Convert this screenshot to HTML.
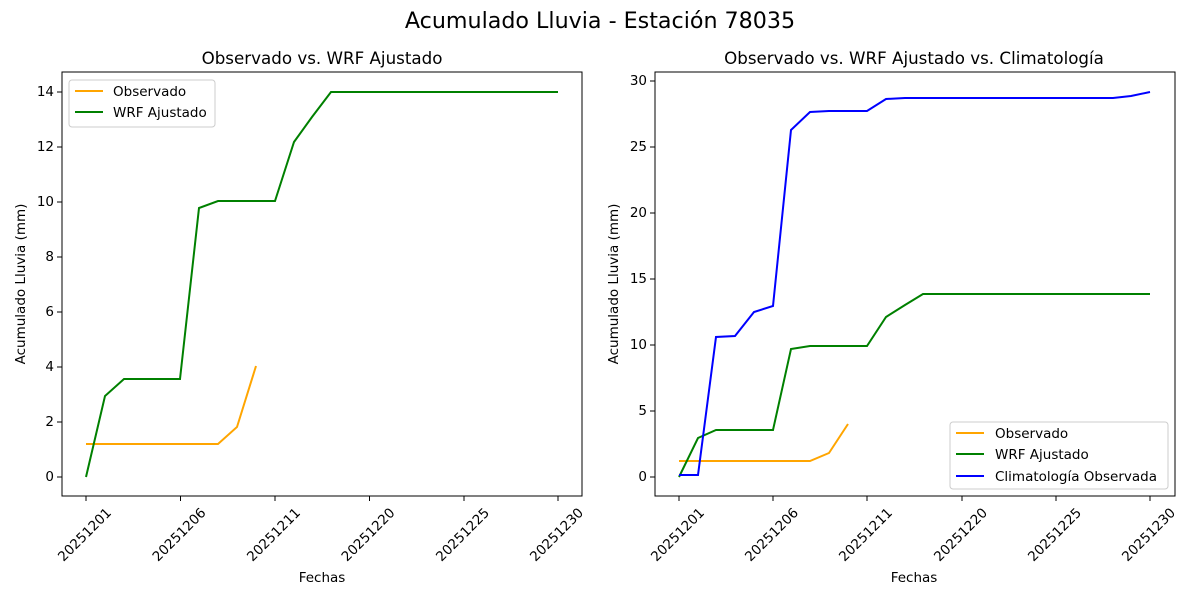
<!DOCTYPE html>
<html><head><meta charset="utf-8"><style>
html,body{margin:0;padding:0;background:#fff}
svg{display:block;font-family:"DejaVu Sans","Liberation Sans",sans-serif}
</style></head><body>
<svg width="1200" height="600" viewBox="0 0 1200 600" xmlns="http://www.w3.org/2000/svg">
<rect width="1200" height="600" fill="#fff"/>
<text x="600" y="28" font-size="22.2" text-anchor="middle" fill="#000">Acumulado Lluvia - Estación 78035</text>

<!-- LEFT -->
<text x="322" y="64" font-size="16.7" text-anchor="middle">Observado vs. WRF Ajustado</text>
<g stroke="#000" stroke-width="1">
<line x1="86" y1="496" x2="86" y2="501"/><line x1="180.5" y1="496" x2="180.5" y2="501"/><line x1="275" y1="496" x2="275" y2="501"/><line x1="369.5" y1="496" x2="369.5" y2="501"/><line x1="464" y1="496" x2="464" y2="501"/><line x1="558" y1="496" x2="558" y2="501"/>
<line x1="57" y1="477" x2="62" y2="477"/><line x1="57" y1="422" x2="62" y2="422"/><line x1="57" y1="367" x2="62" y2="367"/><line x1="57" y1="312" x2="62" y2="312"/><line x1="57" y1="257" x2="62" y2="257"/><line x1="57" y1="202" x2="62" y2="202"/><line x1="57" y1="147" x2="62" y2="147"/><line x1="57" y1="92" x2="62" y2="92"/>
</g>
<g font-size="13.5" text-anchor="end" dominant-baseline="central">
<text x="54" y="477">0</text><text x="54" y="422">2</text><text x="54" y="367">4</text><text x="54" y="312">6</text><text x="54" y="257">8</text><text x="54" y="202">10</text><text x="54" y="147">12</text><text x="54" y="92">14</text>
</g>
<g font-size="13.5" text-anchor="middle" dominant-baseline="central">
<text transform="translate(85,535) rotate(-45)">20251201</text>
<text transform="translate(179.5,535) rotate(-45)">20251206</text>
<text transform="translate(274,535) rotate(-45)">20251211</text>
<text transform="translate(368.5,535) rotate(-45)">20251220</text>
<text transform="translate(463,535) rotate(-45)">20251225</text>
<text transform="translate(557,535) rotate(-45)">20251230</text>
</g>
<text x="322" y="582" font-size="13.5" text-anchor="middle">Fechas</text>
<text transform="translate(25,284) rotate(-90)" font-size="13.5" text-anchor="middle">Acumulado Lluvia (mm)</text>
<polyline fill="none" stroke="#ffa500" stroke-width="2" points="86,444 218,444 237,427 256,366"/>
<polyline fill="none" stroke="#008000" stroke-width="2" points="86,477 105,396 124,379 180,379 199,208 218,201 275,201 294,142 312,117 331,92 558,92"/>
<rect x="62" y="72" width="520" height="424" fill="none" stroke="#000" stroke-width="1"/>
<rect x="69" y="80" width="146" height="47" rx="3" fill="#fff" stroke="#ccc"/>
<line x1="75" y1="91" x2="103" y2="91" stroke="#ffa500" stroke-width="2"/>
<text x="113" y="96" font-size="13.5">Observado</text>
<line x1="75" y1="112" x2="103" y2="112" stroke="#008000" stroke-width="2"/>
<text x="113" y="117" font-size="13.5">WRF Ajustado</text>

<!-- RIGHT -->
<text x="914" y="64" font-size="16.7" text-anchor="middle">Observado vs. WRF Ajustado vs. Climatología</text>
<g stroke="#000" stroke-width="1">
<line x1="679" y1="496" x2="679" y2="501"/><line x1="773" y1="496" x2="773" y2="501"/><line x1="867" y1="496" x2="867" y2="501"/><line x1="962" y1="496" x2="962" y2="501"/><line x1="1056" y1="496" x2="1056" y2="501"/><line x1="1150" y1="496" x2="1150" y2="501"/>
<line x1="650" y1="477" x2="655" y2="477"/><line x1="650" y1="411" x2="655" y2="411"/><line x1="650" y1="345" x2="655" y2="345"/><line x1="650" y1="279" x2="655" y2="279"/><line x1="650" y1="213" x2="655" y2="213"/><line x1="650" y1="147" x2="655" y2="147"/><line x1="650" y1="81" x2="655" y2="81"/>
</g>
<g font-size="13.5" text-anchor="end" dominant-baseline="central">
<text x="647" y="477">0</text><text x="647" y="411">5</text><text x="647" y="345">10</text><text x="647" y="279">15</text><text x="647" y="213">20</text><text x="647" y="147">25</text><text x="647" y="81">30</text>
</g>
<g font-size="13.5" text-anchor="middle" dominant-baseline="central">
<text transform="translate(678,535) rotate(-45)">20251201</text>
<text transform="translate(772,535) rotate(-45)">20251206</text>
<text transform="translate(866,535) rotate(-45)">20251211</text>
<text transform="translate(961,535) rotate(-45)">20251220</text>
<text transform="translate(1055,535) rotate(-45)">20251225</text>
<text transform="translate(1149,535) rotate(-45)">20251230</text>
</g>
<text x="914" y="582" font-size="13.5" text-anchor="middle">Fechas</text>
<text transform="translate(618,284) rotate(-90)" font-size="13.5" text-anchor="middle">Acumulado Lluvia (mm)</text>
<polyline fill="none" stroke="#ffa500" stroke-width="2" points="679,461 810,461 829,453 848,424"/>
<polyline fill="none" stroke="#008000" stroke-width="2" points="679,477 698,438 716,430 773,430 791,349 810,346 867,346 886,317 905,305 923,294 1150,294"/>
<polyline fill="none" stroke="#0000ff" stroke-width="2" points="679,475 698,475 716,337 735,336 754,312 773,306 791,130 810,112 829,111 867,111 886,99 905,98 1113,98 1131,96 1150,92"/>
<rect x="655" y="72" width="520" height="424" fill="none" stroke="#000" stroke-width="1"/>
<rect x="950" y="422" width="218" height="67" rx="3" fill="#fff" stroke="#ccc"/>
<line x1="956" y1="433" x2="984" y2="433" stroke="#ffa500" stroke-width="2"/>
<text x="995" y="438" font-size="13.5">Observado</text>
<line x1="956" y1="454" x2="984" y2="454" stroke="#008000" stroke-width="2"/>
<text x="995" y="459" font-size="13.5">WRF Ajustado</text>
<line x1="956" y1="476" x2="984" y2="476" stroke="#0000ff" stroke-width="2"/>
<text x="995" y="481" font-size="13.5">Climatología Observada</text>
</svg>
</body></html>
